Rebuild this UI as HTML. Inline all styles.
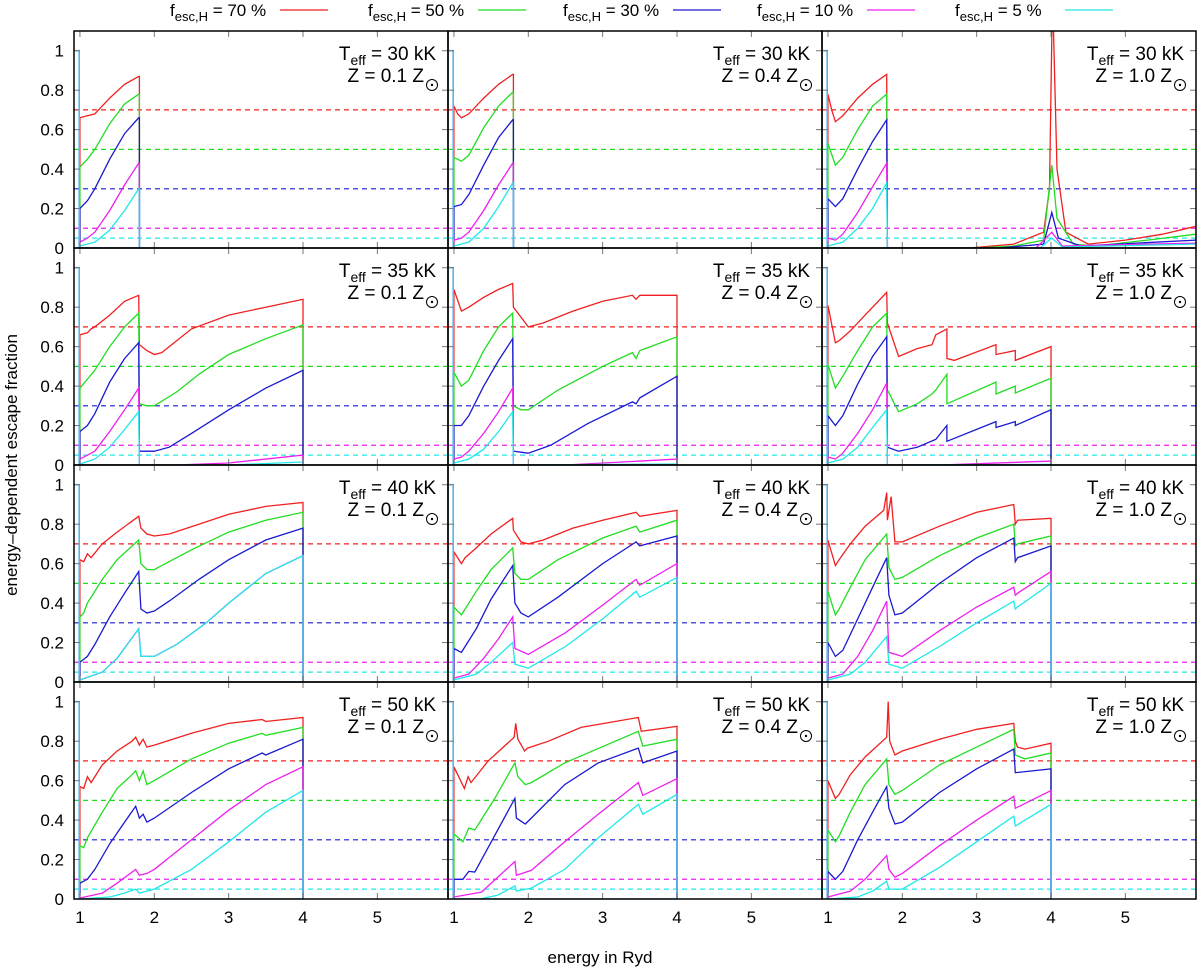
<!DOCTYPE html>
<html><head><meta charset="utf-8"><style>
body{margin:0;background:#fff}
svg text{font-family:"Liberation Sans",Arial,sans-serif;fill:#000}
</style></head><body>
<svg id="chart" width="1200" height="971" viewBox="0 0 1200 971" xmlns="http://www.w3.org/2000/svg">
<g id="legend"></g>
<g id="panels"></g>
<text x="0" y="0" transform="translate(17,465) rotate(-90)" text-anchor="middle" font-size="17">energy–dependent escape fraction</text>
<text x="600" y="963" text-anchor="middle" font-size="17">energy in Ryd</text>
</svg>
<script>
const NS="http://www.w3.org/2000/svg";
const refLevels=[0.7,0.5,0.3,0.1,0.05];
const legendLabels=["70","50","30","10"," 5"];
const xTicks=[1,2,3,4,5];
const yTicks=[0,0.2,0.4,0.6,0.8,1];
const yTickLabels=["0","0.2","0.4","0.6","0.8","1"];
const temps=["30","35","40","50"];
const metals=["0.1","0.4","1.0"];

// ---- Teff 30 kK ----
const t30z01_red=[[1,0.66],[1.05,0.665],[1.1,0.67],[1.2,0.68],[1.4,0.76],[1.6,0.83],[1.79,0.87]];
const t30z01_green=[[1,0.41],[1.1,0.45],[1.2,0.5],[1.4,0.63],[1.6,0.73],[1.79,0.78]];
const t30z01_blue=[[1,0.2],[1.1,0.24],[1.2,0.3],[1.4,0.45],[1.6,0.58],[1.79,0.66]];
const t30z01_mag=[[1,0.03],[1.1,0.05],[1.2,0.08],[1.4,0.19],[1.6,0.32],[1.79,0.43]];
const t30z01_cyan=[[1,0.01],[1.2,0.03],[1.4,0.09],[1.6,0.19],[1.79,0.3]];
const t30z04_red=[[1,0.72],[1.05,0.68],[1.1,0.66],[1.2,0.68],[1.4,0.76],[1.6,0.83],[1.79,0.88]];
const t30z04_green=[[1,0.46],[1.1,0.44],[1.2,0.47],[1.4,0.61],[1.6,0.72],[1.79,0.79]];
const t30z04_blue=[[1,0.21],[1.1,0.22],[1.2,0.27],[1.4,0.42],[1.6,0.56],[1.79,0.65]];
const t30z04_mag=[[1,0.04],[1.1,0.05],[1.2,0.08],[1.4,0.19],[1.6,0.32],[1.79,0.43]];
const t30z04_cyan=[[1,0.01],[1.2,0.03],[1.4,0.1],[1.6,0.21],[1.79,0.33]];
const t30z10_red=[[1,0.78],[1.05,0.7],[1.1,0.64],[1.2,0.67],[1.4,0.76],[1.6,0.83],[1.79,0.88],[1.8,0],[2.9,0],[3.5,0.02],[3.9,0.08],[3.98,0.3],[4.02,1.3],[4.08,0.4],[4.2,0.08],[4.5,0.02],[5,0.04],[5.5,0.07],[5.95,0.11]];
const t30z10_green=[[1,0.53],[1.1,0.42],[1.2,0.46],[1.4,0.6],[1.6,0.72],[1.79,0.78],[1.8,0],[3,0],[3.5,0.01],[3.9,0.04],[4.01,0.42],[4.08,0.15],[4.3,0.02],[4.6,0.01],[5.3,0.04],[5.95,0.07]];
const t30z10_blue=[[1,0.25],[1.1,0.21],[1.2,0.25],[1.4,0.4],[1.6,0.54],[1.79,0.65],[1.8,0],[3.3,0],[3.9,0.02],[4.01,0.18],[4.1,0.05],[4.4,0.01],[5.95,0.04]];
const t30z10_mag=[[1,0.05],[1.1,0.04],[1.2,0.07],[1.4,0.18],[1.6,0.31],[1.79,0.43],[1.8,0],[3.8,0],[4.01,0.08],[4.15,0.01],[5.95,0.025]];
const t30z10_cyan=[[1,0.01],[1.2,0.03],[1.4,0.1],[1.6,0.2],[1.79,0.33],[1.8,0],[3.85,0],[4.01,0.05],[4.15,0.005],[5.95,0.02]];
// ---- Teff 35 kK ----
const t35z01_red=[[1,0.66],[1.1,0.67],[1.15,0.69],[1.2,0.7],[1.4,0.76],[1.6,0.83],[1.79,0.86],[1.8,0.61],[1.9,0.58],[2,0.56],[2.1,0.57],[2.5,0.69],[3,0.76],[3.5,0.8],[4,0.84]];
const t35z01_green=[[1,0.39],[1.2,0.48],[1.4,0.6],[1.6,0.7],[1.79,0.77],[1.8,0.31],[1.9,0.3],[2,0.3],[2.3,0.37],[2.6,0.46],[3,0.56],[3.5,0.64],[4,0.71]];
const t35z01_blue=[[1,0.17],[1.1,0.2],[1.2,0.26],[1.4,0.42],[1.6,0.54],[1.79,0.62],[1.8,0.07],[2,0.07],[2.2,0.09],[2.5,0.16],[3,0.28],[3.5,0.39],[4,0.48]];
const t35z01_mag=[[1,0.03],[1.2,0.07],[1.4,0.17],[1.6,0.28],[1.79,0.39],[1.8,0],[2.3,0],[3,0.01],[4,0.05]];
const t35z01_cyan=[[1,0.005],[1.2,0.03],[1.4,0.09],[1.6,0.18],[1.79,0.27],[1.8,0],[3,0],[4,0.015]];
const t35z04_red=[[1,0.89],[1.1,0.78],[1.2,0.8],[1.4,0.85],[1.6,0.89],[1.79,0.92],[1.8,0.8],[2,0.7],[2.2,0.72],[2.6,0.78],[3,0.83],[3.4,0.86],[3.45,0.84],[3.5,0.86],[4,0.86]];
const t35z04_green=[[1,0.47],[1.1,0.4],[1.2,0.43],[1.4,0.58],[1.6,0.7],[1.79,0.77],[1.8,0.3],[1.9,0.28],[2,0.28],[2.4,0.38],[3,0.5],[3.4,0.57],[3.45,0.54],[3.5,0.58],[4,0.65]];
const t35z04_blue=[[1,0.2],[1.1,0.2],[1.2,0.25],[1.4,0.4],[1.6,0.53],[1.79,0.64],[1.8,0.07],[2,0.06],[2.3,0.1],[2.8,0.21],[3.4,0.32],[3.45,0.31],[3.5,0.34],[4,0.45]];
const t35z04_mag=[[1,0.03],[1.1,0.04],[1.2,0.07],[1.4,0.16],[1.6,0.27],[1.79,0.39],[1.8,0],[2.5,0],[4,0.03]];
const t35z04_cyan=[[1,0.01],[1.2,0.03],[1.4,0.08],[1.6,0.17],[1.79,0.27],[1.8,0],[4,0.005]];
const t35z10_red=[[1,0.81],[1.1,0.62],[1.15,0.63],[1.3,0.68],[1.5,0.76],[1.79,0.875],[1.8,0.72],[1.95,0.55],[2.2,0.59],[2.4,0.61],[2.45,0.66],[2.6,0.69],[2.6,0.54],[2.7,0.53],[3.26,0.61],[3.26,0.56],[3.52,0.58],[3.52,0.53],[4,0.6]];
const t35z10_green=[[1,0.51],[1.1,0.39],[1.2,0.45],[1.4,0.58],[1.6,0.7],[1.79,0.77],[1.8,0.38],[1.95,0.27],[2.2,0.31],[2.4,0.36],[2.45,0.38],[2.6,0.46],[2.6,0.31],[3.26,0.42],[3.26,0.36],[3.52,0.4],[3.52,0.365],[4,0.44]];
const t35z10_blue=[[1,0.25],[1.1,0.2],[1.2,0.25],[1.4,0.41],[1.6,0.55],[1.79,0.65],[1.8,0.09],[1.95,0.07],[2.2,0.09],[2.45,0.13],[2.6,0.2],[2.6,0.12],[3.26,0.22],[3.26,0.19],[3.52,0.22],[3.52,0.2],[4,0.28]];
const t35z10_mag=[[1,0.04],[1.1,0.03],[1.2,0.06],[1.4,0.16],[1.6,0.28],[1.79,0.415],[1.8,0],[2.5,0],[4,0.02]];
const t35z10_cyan=[[1,0.01],[1.2,0.03],[1.4,0.09],[1.6,0.19],[1.79,0.28],[1.8,0],[4,0.003]];
// ---- Teff 40 kK ----
const t40z01_red=[[1,0.62],[1.05,0.61],[1.1,0.65],[1.15,0.63],[1.3,0.7],[1.5,0.76],[1.79,0.84],[1.82,0.78],[1.9,0.75],[2,0.74],[2.2,0.75],[2.6,0.8],[3,0.85],[3.5,0.89],[4,0.91]];
const t40z01_green=[[1,0.33],[1.05,0.35],[1.1,0.4],[1.3,0.52],[1.5,0.62],[1.79,0.72],[1.82,0.6],[1.9,0.57],[2,0.57],[2.1,0.59],[2.5,0.67],[3,0.76],[3.5,0.82],[4,0.86]];
const t40z01_blue=[[1,0.1],[1.1,0.13],[1.2,0.19],[1.4,0.33],[1.6,0.45],[1.79,0.56],[1.82,0.37],[1.9,0.35],[2,0.36],[2.2,0.41],[2.6,0.52],[3,0.62],[3.5,0.72],[4,0.78]];
const t40z01_mag=[[1,0.01],[1.3,0.05],[1.5,0.12],[1.79,0.27],[1.82,0.13],[2,0.13],[2.3,0.19],[2.7,0.3],[3,0.4],[3.5,0.55],[4,0.64]];
const t40z01_cyan=[[1,0.01],[1.3,0.05],[1.5,0.12],[1.79,0.27],[1.82,0.13],[2,0.13],[2.3,0.19],[2.7,0.3],[3,0.4],[3.5,0.55],[4,0.64]];
const t40z04_red=[[1,0.66],[1.1,0.6],[1.15,0.63],[1.3,0.68],[1.5,0.75],[1.79,0.83],[1.8,0.77],[1.9,0.71],[2,0.7],[2.2,0.72],[2.6,0.78],[3,0.82],[3.45,0.86],[3.5,0.84],[4,0.87]];
const t40z04_green=[[1,0.38],[1.1,0.34],[1.15,0.37],[1.3,0.46],[1.5,0.57],[1.79,0.68],[1.82,0.55],[1.9,0.52],[2,0.52],[2.4,0.62],[3,0.73],[3.45,0.79],[3.5,0.76],[4,0.82]];
const t40z04_blue=[[1,0.17],[1.1,0.15],[1.15,0.18],[1.3,0.27],[1.5,0.42],[1.79,0.59],[1.82,0.4],[1.9,0.35],[2,0.33],[2.4,0.43],[3,0.6],[3.45,0.71],[3.5,0.69],[4,0.74]];
const t40z04_mag=[[1,0.02],[1.2,0.04],[1.4,0.12],[1.6,0.22],[1.79,0.33],[1.82,0.17],[2,0.14],[2.5,0.25],[3,0.39],[3.45,0.52],[3.5,0.49],[4,0.6]];
const t40z04_cyan=[[1,0.01],[1.3,0.04],[1.5,0.1],[1.79,0.2],[1.82,0.09],[2,0.07],[2.5,0.18],[3,0.32],[3.45,0.46],[3.5,0.43],[4,0.53]];
const t40z10_red=[[1,0.72],[1.1,0.59],[1.15,0.62],[1.3,0.7],[1.5,0.79],[1.75,0.87],[1.79,0.96],[1.8,0.82],[1.85,0.94],[1.9,0.71],[2,0.71],[2.5,0.79],[3,0.86],[3.5,0.9],[3.52,0.8],[3.55,0.82],[4,0.83]];
const t40z10_green=[[1,0.46],[1.1,0.34],[1.15,0.37],[1.3,0.48],[1.5,0.62],[1.79,0.75],[1.82,0.58],[1.9,0.52],[2,0.53],[2.5,0.64],[3,0.73],[3.5,0.8],[3.52,0.69],[3.55,0.7],[4,0.74]];
const t40z10_blue=[[1,0.2],[1.1,0.13],[1.2,0.16],[1.4,0.32],[1.6,0.48],[1.79,0.63],[1.82,0.44],[1.9,0.34],[2,0.35],[2.5,0.5],[3,0.63],[3.5,0.73],[3.52,0.61],[3.55,0.63],[4,0.69]];
const t40z10_mag=[[1,0.02],[1.2,0.04],[1.4,0.13],[1.6,0.26],[1.79,0.41],[1.82,0.15],[2,0.13],[2.5,0.26],[3,0.38],[3.5,0.48],[3.52,0.44],[3.55,0.45],[4,0.56]];
const t40z10_cyan=[[1,0.01],[1.3,0.04],[1.5,0.1],[1.79,0.23],[1.82,0.09],[2,0.07],[2.5,0.18],[3,0.3],[3.5,0.41],[3.52,0.37],[3.55,0.38],[4,0.5]];
// ---- Teff 50 kK ----
const t50z01_red=[[1,0.57],[1.05,0.56],[1.1,0.62],[1.15,0.59],[1.3,0.68],[1.5,0.75],[1.7,0.8],[1.75,0.82],[1.8,0.78],[1.85,0.81],[1.9,0.77],[2,0.78],[2.5,0.84],[3,0.89],[3.45,0.91],[3.5,0.9],[4,0.92]];
const t50z01_green=[[1,0.27],[1.05,0.26],[1.1,0.31],[1.3,0.44],[1.5,0.56],[1.7,0.63],[1.75,0.65],[1.8,0.6],[1.85,0.65],[1.9,0.58],[2,0.6],[2.5,0.71],[3,0.79],[3.45,0.84],[3.5,0.83],[4,0.87]];
const t50z01_blue=[[1,0.08],[1.1,0.1],[1.2,0.15],[1.4,0.28],[1.6,0.39],[1.75,0.47],[1.8,0.41],[1.85,0.43],[1.9,0.39],[2,0.41],[2.5,0.54],[3,0.66],[3.45,0.74],[3.5,0.73],[4,0.81]];
const t50z01_mag=[[1,0.005],[1.3,0.03],[1.5,0.08],[1.75,0.15],[1.8,0.12],[1.9,0.13],[2,0.15],[2.5,0.3],[3,0.45],[3.5,0.58],[4,0.67]];
const t50z01_cyan=[[1,0],[1.4,0.01],[1.6,0.03],[1.75,0.05],[1.8,0.03],[1.9,0.04],[2,0.05],[2.5,0.15],[3,0.29],[3.5,0.44],[4,0.55]];
const t50z04_red=[[1,0.67],[1.14,0.56],[1.19,0.62],[1.23,0.59],[1.46,0.7],[1.81,0.82],[1.83,0.89],[1.86,0.81],[1.95,0.75],[1.99,0.765],[2.27,0.8],[2.71,0.87],[3.48,0.92],[3.52,0.85],[4,0.875]];
const t50z04_green=[[1,0.33],[1.12,0.29],[1.2,0.36],[1.28,0.35],[1.55,0.51],[1.82,0.69],[1.86,0.62],[1.96,0.58],[2.04,0.59],[2.49,0.69],[3.48,0.85],[3.54,0.775],[4,0.81]];
const t50z04_blue=[[1,0.1],[1.12,0.1],[1.2,0.14],[1.28,0.137],[1.82,0.51],[1.84,0.41],[1.96,0.38],[2.04,0.41],[2.49,0.58],[2.94,0.69],[3.48,0.765],[3.54,0.69],[4,0.75]];
const t50z04_mag=[[1,0.01],[1.37,0.035],[1.82,0.19],[1.84,0.12],[2.04,0.145],[2.49,0.29],[2.94,0.43],[3.48,0.59],[3.54,0.525],[4,0.61]];
const t50z04_cyan=[[1,0],[1.37,0.002],[1.59,0.02],[1.82,0.066],[1.84,0.04],[2.04,0.055],[2.49,0.15],[2.94,0.31],[3.48,0.48],[3.54,0.43],[4,0.53]];
const t50z10_red=[[1,0.6],[1.1,0.51],[1.15,0.53],[1.3,0.63],[1.5,0.72],[1.79,0.82],[1.81,1.0],[1.83,0.8],[1.9,0.73],[2,0.75],[2.5,0.81],[3,0.86],[3.5,0.89],[3.52,0.8],[3.55,0.77],[3.65,0.76],[4,0.79]];
const t50z10_green=[[1,0.35],[1.1,0.29],[1.15,0.32],[1.3,0.44],[1.5,0.58],[1.79,0.71],[1.82,0.58],[1.9,0.53],[2,0.55],[2.5,0.68],[3,0.77],[3.5,0.86],[3.52,0.73],[3.65,0.71],[4,0.74]];
const t50z10_blue=[[1,0.14],[1.1,0.1],[1.2,0.14],[1.4,0.3],[1.6,0.44],[1.79,0.57],[1.82,0.46],[1.9,0.38],[2,0.39],[2.5,0.54],[3,0.66],[3.5,0.76],[3.52,0.64],[4,0.66]];
const t50z10_mag=[[1,0.01],[1.3,0.04],[1.5,0.1],[1.79,0.22],[1.82,0.15],[1.9,0.11],[2,0.13],[2.5,0.27],[3,0.4],[3.5,0.52],[3.52,0.46],[4,0.55]];
const t50z10_cyan=[[1,0],[1.4,0.01],[1.6,0.04],[1.79,0.09],[1.82,0.05],[2,0.05],[2.5,0.16],[3,0.29],[3.5,0.42],[3.52,0.37],[4,0.48]];

const panelCurves=[
 [[t30z01_red,t30z01_green,t30z01_blue,t30z01_mag,t30z01_cyan],[t30z04_red,t30z04_green,t30z04_blue,t30z04_mag,t30z04_cyan],[t30z10_red,t30z10_green,t30z10_blue,t30z10_mag,t30z10_cyan]],
 [[t35z01_red,t35z01_green,t35z01_blue,t35z01_mag,t35z01_cyan],[t35z04_red,t35z04_green,t35z04_blue,t35z04_mag,t35z04_cyan],[t35z10_red,t35z10_green,t35z10_blue,t35z10_mag,t35z10_cyan]],
 [[t40z01_red,t40z01_green,t40z01_blue,t40z01_mag,t40z01_cyan],[t40z04_red,t40z04_green,t40z04_blue,t40z04_mag,t40z04_cyan],[t40z10_red,t40z10_green,t40z10_blue,t40z10_mag,t40z10_cyan]],
 [[t50z01_red,t50z01_green,t50z01_blue,t50z01_mag,t50z01_cyan],[t50z04_red,t50z04_green,t50z04_blue,t50z04_mag,t50z04_cyan],[t50z10_red,t50z10_green,t50z10_blue,t50z10_mag,t50z10_cyan]]
];
const edgeEnergy=[1.8,4,4,4];

const colors=["#f02020","#22dd22","#1a1ad0","#ee20ee","#20e8e8"];
const seriesNames=["red","green","blue","magenta","cyan"];
const PL=74,PT=31,PW=374,PH=217,XMIN=0.92,XMAX=5.95,YMAX=1.1;
function xs(c,e){return PL+PW*c+(e-XMIN)/(XMAX-XMIN)*PW;}
function ys(r,f){return PT+PH*r+PH-f/YMAX*PH;}
function mk(tag,attrs,parent){const el=document.createElementNS(NS,tag);for(const k in attrs)el.setAttribute(k,attrs[k]);parent.appendChild(el);return el;}

const svg=document.getElementById('chart');
const defs=mk('defs',{},svg);
const panelsG=document.getElementById('panels');

for(let r=0;r<4;r++){for(let c=0;c<3;c++){
  const x0=PL+PW*c,y0=PT+PH*r;
  const cp=mk('clipPath',{id:'cp'+r+c},defs);
  mk('rect',{x:x0,y:y0,width:PW,height:PH},cp);
  const g=mk('g',{},panelsG);
  
  
  const pg=mk('g',{'clip-path':'url(#cp'+r+c+')'},g);
  // reference dashed lines
  refLevels.forEach((lv,i)=>{
    const l=mk('line',{x1:x0,x2:x0+PW,y1:ys(r,lv),y2:ys(r,lv),stroke:colors[i],'stroke-width':1.2,'stroke-dasharray':'5,4'},pg);
    
    
  });
  // curves
  const curves=panelCurves[r][c];
  curves.forEach((pts,i)=>{
    let d='M'+xs(c,pts[0][0]).toFixed(1)+','+ys(r,0).toFixed(1);
    pts.forEach(p=>{d+='L'+xs(c,p[0]).toFixed(1)+','+ys(r,p[1]).toFixed(1);});
    const last=pts[pts.length-1];
    if(last[0]<5.9){d+='L'+xs(c,edgeEnergy[r]).toFixed(1)+','+ys(r,last[1]).toFixed(1)+'L'+xs(c,edgeEnergy[r]).toFixed(1)+','+ys(r,0).toFixed(1);}
    const p=mk('path',{d:d,fill:'none',stroke:colors[i],'stroke-width':1.3},pg);
    
    
  });
  // light blue step
  const cy=curves[4];
  const cEnd=cy[cy.length-1][0]<5.9?cy[cy.length-1][1]:0;
  let dd='M'+xs(c,XMIN)+','+ys(r,1)+'L'+xs(c,0.99)+','+ys(r,1)+'L'+xs(c,0.99)+','+ys(r,0)+'L'+xs(c,edgeEnergy[r])+','+ys(r,0)+'L'+xs(c,edgeEnergy[r])+','+ys(r,cEnd);
  const sb=mk('path',{d:dd,fill:'none',stroke:'#56b4e9','stroke-width':1.6},pg);
  
  
  // ticks
  xTicks.forEach(t=>{const X=xs(c,t);
    mk('line',{x1:X,x2:X,y1:y0+PH,y2:y0+PH-6,stroke:'#777','stroke-width':1},g);
    mk('line',{x1:X,x2:X,y1:y0,y2:y0+6,stroke:'#777','stroke-width':1},g);
    if(r===3){const tl=mk('text',{x:X,y:y0+PH+24,'text-anchor':'middle','font-size':17},g);tl.textContent=t;
      
      }
  });
  yTicks.forEach((t,i)=>{const Y=ys(r,t);
    mk('line',{x1:x0,x2:x0+6,y1:Y,y2:Y,stroke:'#777','stroke-width':1},g);
    mk('line',{x1:x0+PW,x2:x0+PW-6,y1:Y,y2:Y,stroke:'#777','stroke-width':1},g);
    if(c===0){const tl=mk('text',{x:64,y:Y+6,'text-anchor':'end','font-size':17},g);tl.textContent=yTickLabels[i];
      
      }
  });
  const fr=mk('rect',{x:x0,y:y0,width:PW,height:PH,fill:'none',stroke:'#000','stroke-width':1.5},g);
  
  
  // annotations
  const t1=mk('text',{x:x0+PW-12,y:y0+29,'text-anchor':'end','font-size':19},g);
  t1.innerHTML='T<tspan font-size="14" dy="5">eff</tspan><tspan dy="-5"> = '+temps[r]+' kK</tspan>';
  
  
  const t2=mk('text',{x:x0+PW-24,y:y0+51,'text-anchor':'end','font-size':19},g);
  t2.textContent='Z = '+(r===1&&c===0?' ':'')+metals[c]+' Z';
  
  
  const sun=mk('g',{},g);
  
  
  mk('circle',{cx:x0+PW-16,cy:y0+54,r:5.5,fill:'none',stroke:'#000','stroke-width':1},sun);
  mk('circle',{cx:x0+PW-16,cy:y0+54,r:1.2,fill:'#000'},sun);
}}

// legend
const lg=document.getElementById('legend');
const legX=[170,368,563,757,955];
legendLabels.forEach((lab,i)=>{
  const e=mk('g',{},lg);
  
  
  const t=mk('text',{x:legX[i],y:16,'font-size':17},e);
  t.innerHTML='f<tspan font-size="13" dy="5">esc,H</tspan><tspan dy="-5"> = '+lab+' %</tspan>';
  mk('line',{x1:legX[i]+110,x2:legX[i]+158,y1:10,y2:10,stroke:colors[i],'stroke-width':1.3},e);
});
</script>
</body></html>
